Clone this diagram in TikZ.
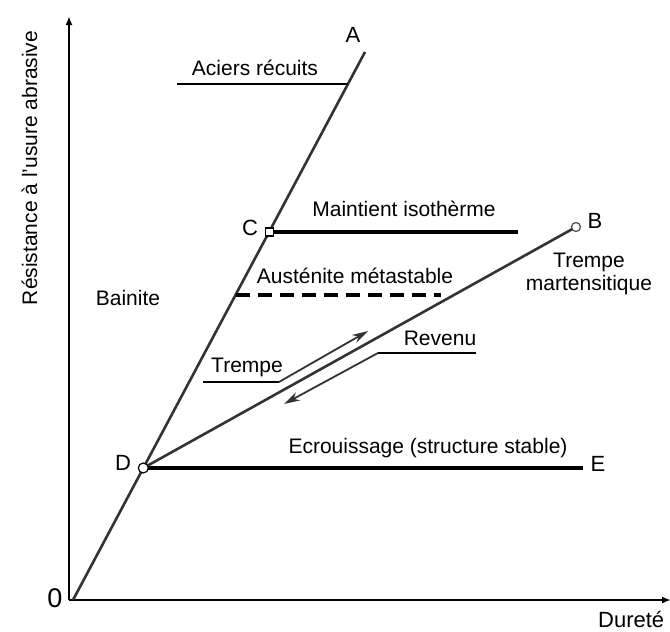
\documentclass[tikz,border=0pt]{standalone}
\usepackage{fontspec}
\setmainfont{Liberation Sans}
\usetikzlibrary{arrows.meta}
\begin{document}
\begin{tikzpicture}[x=1pt,y=-1pt,
  txt/.style={inner sep=0pt, anchor=base, font=\fontsize{21}{23}\selectfont},
  lbl/.style={inner sep=0pt, anchor=base, font=\fontsize{22}{24}\selectfont},
  slope/.style={line width=2.6pt, draw=black!80},
  hline/.style={line width=3.4pt},
  uline/.style={line width=1.4pt},
  leader/.style={line width=1.8pt, draw=black!80, -{Stealth[length=16pt,width=9pt]}},
  axis/.style={line width=2.8pt, -{Latex[length=9pt,width=7pt]}},
  circmark/.style={circle, draw, fill=white, line width=1.2pt, minimum size=10pt, inner sep=0pt},
  sqmark/.style={rectangle, draw, fill=white, line width=1.2pt, minimum size=8pt, inner sep=0pt}]
\useasboundingbox[fill=white] (0,0) rectangle (670,632);
% axes
\coordinate (Oax) at (69,600);
\coordinate (Yend) at (69,16);
\coordinate (Xend) at (671,600);
\draw[axis] (Oax) -- (Yend);
\draw[axis] (Oax) -- (Xend);
% key points
\coordinate (O) at (73,600);
\coordinate (A) at (365,52);
\coordinate (C) at (269.1,232);
\coordinate (D) at (143.3,468);
\coordinate (B) at (576,227);
\coordinate (E) at (583,468);
\coordinate (M) at (518,232);
% main lines
\draw[slope] (O) -- (A);
\draw[slope] (D) -- (B);
\draw[hline] (C) -- (M);
\draw[hline] (D) -- (E);
% dashed line
\coordinate (d1) at (235.5,295);
\coordinate (d2) at (441,295);
\draw[line width=3.4pt, dash pattern=on 14pt off 8pt] (d1) -- (d2);
% markers
\node[sqmark] (Cm) at (C) {};
\node[circmark] (Dm) at (D) {};
\node[circmark, draw=black!70, minimum size=9pt] (Bm) at (B) {};
% Aciers recuits
\node[txt] (acier) at (255,75) {Aciers récuits};
\coordinate (ac1) at (177,84);
\coordinate (ac2) at (348,84);
\draw[uline] (ac1) -- (ac2);
% labels
\node[lbl] (lA) at (353,42) {A};
\node[lbl] (lB) at (595,228) {B};
\node[lbl] (lC) at (250,235) {C};
\node[lbl] (lD) at (123,470) {D};
\node[lbl] (lE) at (598,471) {E};
\node[inner sep=0pt, anchor=base, font=\fontsize{27}{29}\selectfont] (l0) at (55,607) {0};
\node[txt] (maint) at (404,216) {Maintient isothèrme};
\node[txt] (aust) at (355,283) {Austénite métastable};
\node[txt] (bain) at (128,305) {Bainite};
\node[txt, align=center] (tmart) at (589,290) {Trempe\\martensitique};
\node[txt] (ecr) at (428,453) {Ecrouissage (structure stable)};
% Trempe / Revenu
\node[txt] (trempe) at (247,372) {Trempe};
\node[txt] (revenu) at (440,345) {Revenu};
\coordinate (t1) at (203,382);
\coordinate (t2) at (279,382);
\coordinate (t3) at (368,331);
\draw[uline] (t1) -- (t2);
\draw[leader] (t2) -- (t3);
\coordinate (r1) at (476,353);
\coordinate (r2) at (378,353);
\coordinate (r3) at (284,404);
\draw[uline] (r1) -- (r2);
\draw[leader] (r2) -- (r3);
% axis titles
\node[inner sep=0pt, anchor=base, rotate=90, font=\fontsize{21}{23}\selectfont] (ytitle) at (37,168) {Résistance à l'usure abrasive};
\node[inner sep=0pt, anchor=base west, font=\fontsize{22}{24}\selectfont] (xtitle) at (598,627) {Dureté};
\end{tikzpicture}
\end{document}
